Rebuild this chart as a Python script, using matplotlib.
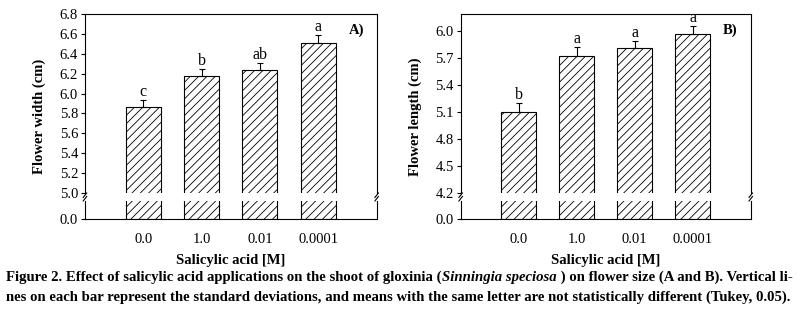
import numpy as np
import matplotlib
matplotlib.use('Agg')
import matplotlib.pyplot as plt
from matplotlib import rcParams

rcParams['font.family'] = ['Liberation Serif', 'DejaVu Serif']
rcParams['hatch.linewidth'] = 0.6

categories = ['0.0', '1.0', '0.01', '0.0001']
width_mean = [5.86, 6.18, 6.24, 6.51]
width_sd = [0.08, 0.07, 0.07, 0.08]
width_letters = ['c', 'b', 'ab', 'a']
length_mean = [5.10, 5.73, 5.81, 5.97]
length_sd = [0.10, 0.10, 0.08, 0.09]
length_letters = ['b', 'a', 'a', 'a']

fig = plt.figure(figsize=(7.97, 3.19), dpi=100)

def panel(left, w, mean, sd, letters, ylo, yhi, ticks, ylabel, tag):
    up = fig.add_axes([left, 0.395, w, 0.561])
    low = fig.add_axes([left, 0.3135, w, 0.0565])
    x = np.arange(len(categories))
    for ax in (up, low):
        ax.bar(x, mean, width=0.6, color='white', edgecolor='black',
               linewidth=0.8, hatch='////')
        ax.set_xlim(-1, 4)
        for s in ax.spines.values():
            s.set_linewidth(0.8)
        ax.tick_params(axis='y', direction='out', length=3, width=0.8,
                       labelsize=10.5, pad=2)
        ax.tick_params(axis='x', length=0)
    up.errorbar(x, mean, yerr=[[0] * 4, sd], fmt='none', ecolor='black',
                elinewidth=0.8, capsize=2.5, capthick=0.8)
    up.set_ylim(ylo, yhi)
    up.set_yticks(ticks)
    up.set_yticklabels(['%.1f' % t for t in ticks])
    up.set_xticks([])
    up.spines['bottom'].set_visible(False)
    low.set_ylim(0, 1)
    low.set_yticks([0])
    low.set_yticklabels(['0.0'])
    low.spines['top'].set_visible(False)
    low.set_xticks(x)
    low.set_xticklabels(categories, fontsize=10.5)
    low.tick_params(axis='x', pad=10)
    low.set_xlabel('Salicylic acid [M]', fontsize=10.5, fontweight='bold',
                   labelpad=6)
    for xi, m, s, t in zip(x, mean, sd, letters):
        up.text(xi, m + s, t, ha='center', va='bottom', fontsize=11.5)
    up.text(0.93, 0.91, tag, transform=up.transAxes, ha='center',
            va='center', fontsize=10.5, fontweight='bold')
    fig.text(left - 0.057, 0.635, ylabel, rotation=90, ha='center',
             va='center', fontsize=10.5, fontweight='bold')
    # break marks
    for xs in (0, 1):
        up.plot([xs - 0.006, xs + 0.006], [-0.025, 0.0], transform=up.transAxes,
                color='black', lw=0.8, clip_on=False)
        low.plot([xs - 0.006, xs + 0.006], [1.0, 1.25], transform=low.transAxes,
                 color='black', lw=0.8, clip_on=False)

panel(0.1066, 0.366, width_mean, width_sd, width_letters, 5.0, 6.8,
      np.arange(5.0, 6.81, 0.2), 'Flower width (cm)', 'A)')
panel(0.578, 0.364, length_mean, length_sd, length_letters, 4.2, 6.193,
      np.arange(4.2, 6.01, 0.3), 'Flower length (cm)', 'B)')

# caption
fig.canvas.draw()
r = fig.canvas.get_renderer()
cap = dict(fontsize=10.6, fontweight='bold', va='center')
parts = [('Figure 2. Effect of salicylic acid applications on the shoot of gloxinia (', 'normal'),
         ('Sinningia speciosa', 'italic'),
         (' ) on flower size (A and B). Vertical li-', 'normal')]
xpos = 0.008
for txt, st in parts:
    t = fig.text(xpos, 1 - 277 / 319, txt, style=st, **cap)
    bb = t.get_window_extent(r)
    xpos += bb.width / fig.bbox.width
fig.text(0.008, 1 - 297 / 319,
         'nes on each bar represent the standard deviations, and means with the same letter are not statistically different (Tukey, 0.05).',
         **cap)

fig.savefig('out.png', dpi=100)
